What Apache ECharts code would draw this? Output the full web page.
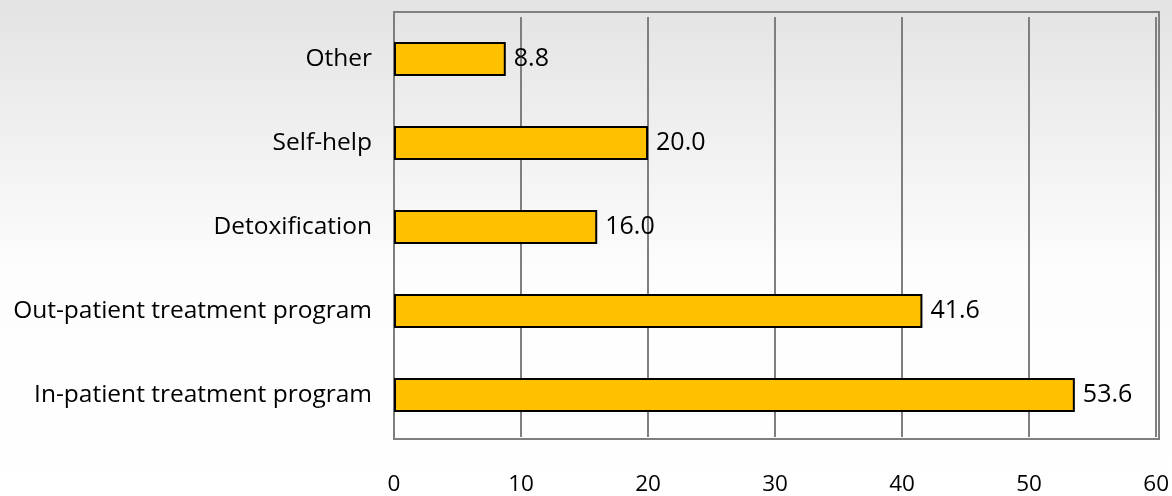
<!DOCTYPE html>
<html><head><meta charset="utf-8">
<script src="https://cdn.jsdelivr.net/npm/echarts@6/dist/echarts.min.js"></script>
<style>html,body{margin:0;padding:0;}#c{width:1172px;height:496px;}</style>
</head><body><div id="c"></div>
<script>
const categories = ["In-patient treatment program","Out-patient treatment program","Detoxification","Self-help","Other"];
const values = [53.6, 41.6, 16.0, 20.0, 8.8];
const xTicks = [0,10,20,30,40,50,60];

const chart = echarts.init(document.getElementById('c'));
const font = '"Open Sans", sans-serif';
chart.setOption({
  backgroundColor: new echarts.graphic.LinearGradient(0,0,0,1,[
    {offset:0,color:'#e3e3e3'},{offset:0.55,color:'#fdfdfd'},{offset:1,color:'#ffffff'}]),
  animation:false,
  graphic:[{type:'rect',shape:{x:394,y:12,width:765,height:427},
    style:{fill:'none',stroke:'#7f7f7f',lineWidth:2},z:0,silent:true}],
  grid:{left:394,right:13,top:17,bottom:57,show:false},
  xAxis:{type:'value',min:0,max:60,interval:10,
    axisLine:{show:false},axisTick:{show:false},
    splitLine:{show:true,lineStyle:{color:'#7f7f7f',width:2}},
    axisLabel:{color:'#000',fontSize:22.5,fontFamily:font,margin:36,
      formatter:v=>xTicks.includes(v)?String(v):''}},
  yAxis:{type:'category',data:categories,
    axisLine:{show:true,lineStyle:{color:'#7f7f7f',width:2}},axisTick:{show:false},
    axisLabel:{color:'#000',fontSize:24.5,fontFamily:font,margin:22}},
  series:[{type:'bar',data:values,barWidth:34,
    itemStyle:{color:'#ffc000',borderColor:'#000',borderWidth:2},
    label:{show:true,position:'right',distance:8,color:'#000',fontSize:25,fontFamily:font,
      formatter:p=>p.value.toFixed(1)}}]
});
</script></body></html>
